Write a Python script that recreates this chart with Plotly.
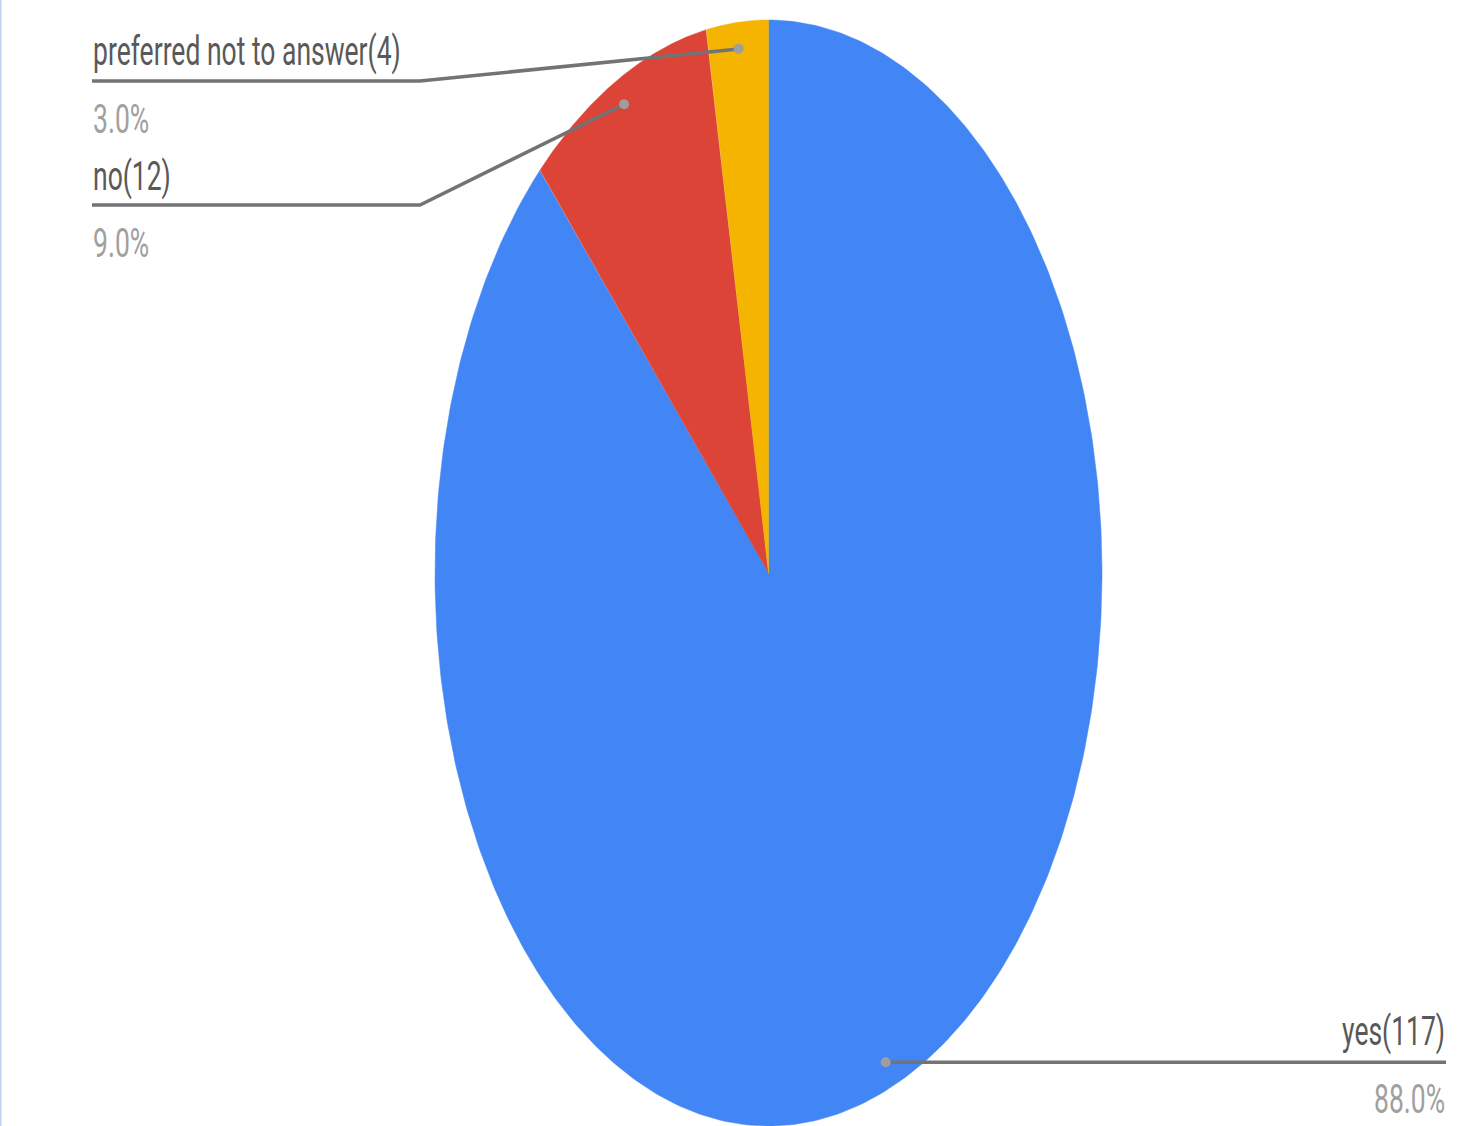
import numpy as np
import plotly.graph_objects as go

# ---- data ----
labels = ["yes", "no", "preferred not to answer"]
counts = [117, 12, 4]
colors = ["#4285F4", "#DB4437", "#F4B400"]

# ---- layout constants (pixel space) ----
W, H = 1458, 1126
CX, CY = 768.5, 573.0
RX, RY = 333.5, 553.0
DOT_R = 0.952
FONT = "Roboto, sans-serif"
FONT_SIZE = 26.5
LINE_COLOR = "#737373"
DOT_COLOR = "#9e9e9e"
LABEL_COLOR = "#595959"
PCT_COLOR = "#a0a0a0"

total = sum(counts)
fracs = np.array(counts) / total
cum = np.concatenate([[0], np.cumsum(fracs)])


def pt(frac, r=1.0):
    a = 2 * np.pi * frac  # clockwise from 12 o'clock
    return CX + RX * r * np.sin(a), CY - RY * r * np.cos(a)


fig = go.Figure()

for i, lab in enumerate(labels):
    t = np.linspace(cum[i], cum[i + 1], 400)
    xs, ys = pt(t)
    xs = np.concatenate([[CX], xs, [CX]])
    ys = np.concatenate([[CY], ys, [CY]])
    fig.add_trace(go.Scatter(x=xs, y=ys, fill="toself", fillcolor=colors[i],
                             line=dict(color=colors[i], width=0.5), mode="lines",
                             hoverinfo="skip", showlegend=False))

placement = {
    "preferred not to answer": dict(tx=91, ny=50, py=118, ex=420, uy=81, end=92, anchor="left"),
    "no": dict(tx=91, ny=175, py=242, ex=420, uy=205, end=92, anchor="left"),
    "yes": dict(tx=1447, ny=1030, py=1098, ex=None, uy=None, end=1446, anchor="right"),
}

annotations = []
for i, lab in enumerate(labels):
    p = placement[lab]
    mid = (cum[i] + cum[i + 1]) / 2
    dx, dy = pt(mid, DOT_R)
    if p["ex"] is not None:
        lx = [dx, p["ex"], p["end"]]
        ly = [dy, p["uy"], p["uy"]]
    else:
        lx = [dx, p["end"]]
        ly = [dy, dy]
    fig.add_trace(go.Scatter(x=lx, y=ly, mode="lines",
                             line=dict(color=LINE_COLOR, width=3.5),
                             hoverinfo="skip", showlegend=False))
    fig.add_trace(go.Scatter(x=[dx], y=[dy], mode="markers",
                             marker=dict(color=DOT_COLOR, size=10, symbol="circle"),
                             hoverinfo="skip", showlegend=False))
    annotations.append(dict(x=p["tx"], y=p["ny"], xref="x", yref="y",
                            text=f"{lab}({counts[i]})", showarrow=False,
                            xanchor=p["anchor"], yanchor="middle",
                            font=dict(family=FONT, size=FONT_SIZE, color=LABEL_COLOR)))
    annotations.append(dict(x=p["tx"], y=p["py"], xref="x", yref="y",
                            text=f"{fracs[i]*100:.1f}%", showarrow=False,
                            xanchor=p["anchor"], yanchor="middle",
                            font=dict(family=FONT, size=FONT_SIZE, color=PCT_COLOR)))

fig.update_layout(
    width=W, height=H,
    margin=dict(l=0, r=0, t=0, b=0),
    paper_bgcolor="white", plot_bgcolor="white",
    xaxis=dict(range=[0, W], visible=False, fixedrange=True),
    yaxis=dict(range=[H, 0], visible=False, fixedrange=True),
    annotations=annotations,
    shapes=[dict(type="line", xref="x", yref="y", x0=0.5, x1=0.5, y0=0, y1=H,
                 line=dict(color="#bcd3ea", width=2))],
    showlegend=False,
)

post = (
    "document.body.style.margin='0';document.body.style.overflow='hidden';"
    "document.querySelectorAll('.annotation-text').forEach(function(e){"
    "e.style.transformBox='fill-box';e.style.transformOrigin='center';"
    "e.style.transform='scaleY(1.55)';});"
)

fig.write_html("out.html", config={"displayModeBar": False}, post_script=post)
